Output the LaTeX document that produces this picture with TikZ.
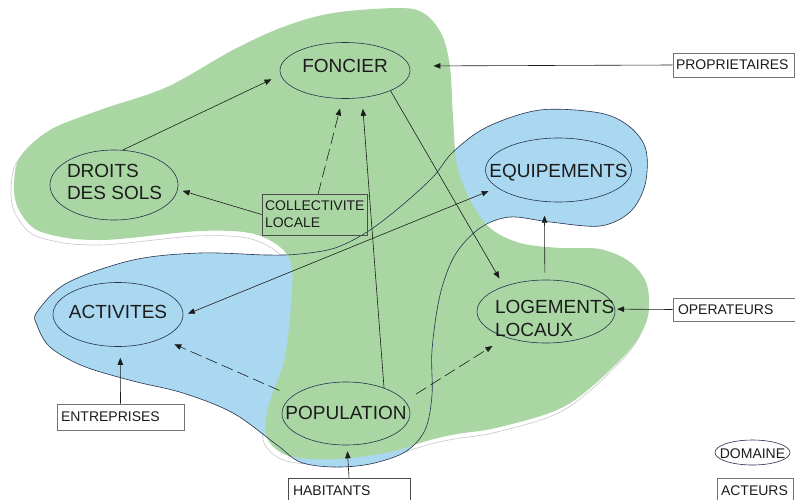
\documentclass[tikz,border=0pt]{standalone}
\usepackage{fontspec}
\setmainfont{Liberation Sans}
\usetikzlibrary{shapes.geometric,arrows.meta}
\definecolor{gfill}{RGB}{170,214,164}
\definecolor{bfill}{RGB}{171,216,241}
\definecolor{bline}{RGB}{38,50,78}
\definecolor{ink}{RGB}{28,28,28}
\newcommand\ctxt[2]{\makebox[0pt][c]{\smash{\raisebox{#1}{#2}}}}
\newcommand\ltxt[3]{\makebox[0pt][l]{\hspace{#1}\smash{\raisebox{#2}{\begin{tabular}[t]{@{}l@{}}#3\end{tabular}}}}}
\begin{document}
\begin{tikzpicture}[x=1pt,y=-1pt,
  dom/.style={ellipse, draw=bline, line width=0.6pt, inner sep=0pt, text=ink,
    font=\fontsize{19}{22}\selectfont},
  actor/.style={rectangle, draw=black!55, line width=0.6pt, text=ink, align=left,
    inner ysep=0pt, font=\fontsize{14}{17}\selectfont},
  arr/.style={draw=ink, line width=0.6pt, -{Triangle[length=7pt,width=5.5pt]}},
  arrtwo/.style={draw=ink, line width=0.6pt, {Triangle[length=7pt,width=5.5pt]}-{Triangle[length=7pt,width=5.5pt]}},
  dasharr/.style={arr, dash pattern=on 12pt off 5pt}]
\clip (0,0) rectangle (795,499);
\fill[white] (0,0) rectangle (795,499);
% shadow of the green domain
\draw[black!22, line width=0.6pt, fill=white, shift={(-3,5)}]
  plot[smooth cycle, tension=0.55] coordinates {
  (14,185) (20,157) (50,130) (100,110) (167,87) (233,50) (283,27) (333,13) (400,8)
  (425,14) (442,35) (450,67) (453,117) (457,165) (470,200) (490,228) (520,243)
  (560,248) (600,249) (630,262) (647,285) (647,320) (625,355) (567,405) (500,427)
  (457,434) (430,440) (390,452) (340,459) (300,458) (280,452) (267,438) (266,418)
  (272,395) (284,362) (290,318) (292,268) (280,247) (250,233) (200,231) (130,238)
  (100,240) (67,238) (35,229) (18,208)};
% blue domain fill
\fill[bfill] plot[smooth cycle, tension=0.55] coordinates {
  (37,312) (67,283) (133,260) (200,253) (267,255) (300,254) (335,248) (367,232)
  (400,207) (433,177) (453,152) (487,127) (540,110) (600,113) (630,127) (646,150)
  (645,185) (630,212) (600,226) (550,222) (510,217) (480,228) (455,255) (440,295)
  (432,350) (432,395) (425,430) (405,452) (370,464) (333,467) (300,462) (277,445)
  (233,413) (183,393) (133,381) (83,366) (50,347) (37,325)};
% green domain fill
\fill[gfill] plot[smooth cycle, tension=0.55] coordinates {
  (14,185) (20,157) (50,130) (100,110) (167,87) (233,50) (283,27) (333,13) (400,8)
  (425,14) (442,35) (450,67) (453,117) (457,165) (470,200) (490,228) (520,243)
  (560,248) (600,249) (630,262) (647,285) (647,320) (625,355) (567,405) (500,427)
  (457,434) (430,440) (390,452) (340,459) (300,458) (280,452) (267,438) (266,418)
  (272,395) (284,362) (290,318) (292,268) (280,247) (250,233) (200,231) (130,238)
  (100,240) (67,238) (35,229) (18,208)};
% blue domain outline
\draw[bline, line width=0.6pt] plot[smooth cycle, tension=0.55] coordinates {
  (37,312) (67,283) (133,260) (200,253) (267,255) (300,254) (335,248) (367,232)
  (400,207) (433,177) (453,152) (487,127) (540,110) (600,113) (630,127) (646,150)
  (645,185) (630,212) (600,226) (550,222) (510,217) (480,228) (455,255) (440,295)
  (432,350) (432,395) (425,430) (405,452) (370,464) (333,467) (300,462) (277,445)
  (233,413) (183,393) (133,381) (83,366) (50,347) (37,325)};
% domains
\node[dom, minimum width=130pt, minimum height=56pt] (foncier) at (345,70.5) {\ctxt{-2pt}{FONCIER}};
\node[dom, minimum width=128pt, minimum height=70pt] (droits) at (114,185) {\ltxt{-47pt}{8pt}{DROITS\\DES SOLS}};
\node[dom, minimum width=146pt, minimum height=64pt] (equip) at (558.5,170) {\ctxt{-7pt}{EQUIPEMENTS}};
\node[dom, minimum width=130pt, minimum height=64pt] (activ) at (118,314.5) {\ctxt{-4pt}{ACTIVITES}};
\node[dom, minimum width=138pt, minimum height=63pt] (loge) at (546,311.5) {\ltxt{-51pt}{-2pt}{LOGEMENTS\\[1pt]LOCAUX}};
\node[dom, minimum width=128pt, minimum height=63pt] (popu) at (346,413.5) {\ctxt{-6pt}{POPULATION}};
\node[dom, minimum width=75pt, minimum height=25pt, font=\fontsize{14}{17}\selectfont] (legdom) at (752.5,452.5) {\ctxt{-5.5pt}{DOMAINE}};
% actors
\node[actor, text width=115pt, inner xsep=3pt, minimum height=24pt] (prop) at (733.5,65) {PROPRIETAIRES};
\node[actor, text width=99pt, inner xsep=3pt, minimum height=41pt, draw=black!70] (coll) at (314.5,214.5) {COLLECTIVITE\\LOCALE};
\node[actor, text width=114pt, inner xsep=5pt, minimum height=23pt] (oper) at (735,309.5) {OPERATEURS};
\node[actor, text width=119pt, inner xsep=4pt, minimum height=26pt] (ent) at (120.5,417) {ENTREPRISES};
\node[actor, text width=112pt, inner xsep=5pt, minimum height=26pt, draw=black!70] (hab) at (349,491) {HABITANTS};
\node[actor, text width=68pt, inner xsep=4pt, minimum height=26pt] (act) at (755,491) {ACTEURS};
% connectors
\draw[arr, shorten >=10pt] (droits.76) -- (foncier.184);
\draw[arr, shorten >=5pt] (coll.west) -- (droits.-4);
\draw[dasharr, shorten >=10pt] (coll.80) -- (foncier.265);
\draw[arr, shorten >=11pt] (popu.34) -- (foncier.302);
\draw[arr, shorten >=9pt] (foncier.-24) -- (loge.149);
\draw[arrtwo, shorten <=5pt, shorten >=9pt] (activ.-1) -- (equip.196);
\draw[dasharr, shorten <=14pt, shorten >=14pt] (popu.162) -- (activ.-29);
\draw[dasharr, shorten <=13pt, shorten >=16pt] (popu.12) -- (loge.213);
\draw[arr, shorten <=7pt, shorten >=14pt] (loge.92) -- (equip.246);
\draw[arr, shorten >=24pt] (prop.west) -- (foncier.4);
\draw[arr, shorten >=2pt] (oper.west) -- (loge.2);
\draw[arr, shorten >=11pt] (ent.north) -- (activ.274);
\draw[arr, shorten >=6pt] (hab.north) -- (popu.272);
\end{tikzpicture}
\end{document}
